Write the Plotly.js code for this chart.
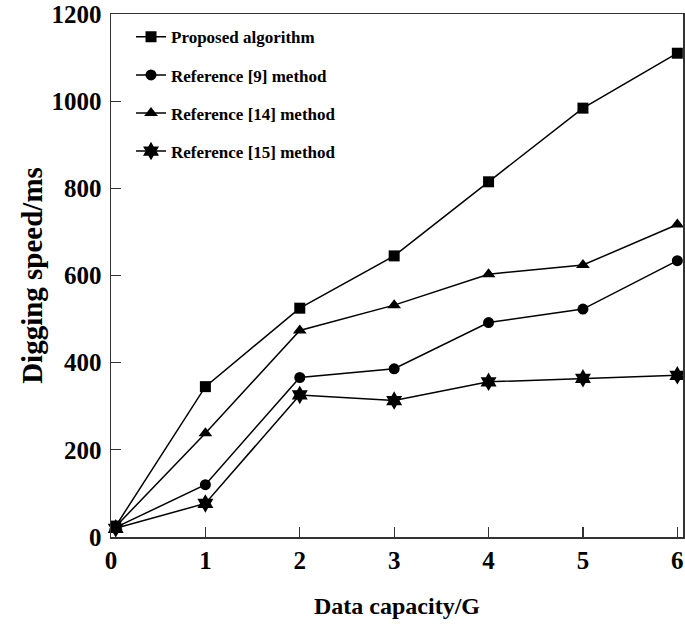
<!DOCTYPE html>
<html>
<head>
<meta charset="utf-8">
<script src="https://cdn.plot.ly/plotly-3.0.1.min.js"></script>
<style>html,body{margin:0;padding:0;background:#fff;}#chart{width:685px;height:624px;}</style>
</head>
<body>
<div id="chart"></div>
<script>
var xValues = [0.05, 1, 2, 3, 4, 5, 6];
var proposed = [25, 345, 525, 645, 815, 984, 1110];
var ref9 = [22, 120, 366, 386, 492, 523, 634];
var ref14 = [24, 238, 474, 532, 603, 624, 717];
var ref15 = [20, 77, 326, 313, 356, 364, 371];
var seriesNames = ["Proposed algorithm", "Reference [9] method", "Reference [14] method", "Reference [15] method"];
var xTicks = [0, 1, 2, 3, 4, 5, 6];
var yTicks = [0, 200, 400, 600, 800, 1000, 1200];

var FONT = "Liberation Serif, Times New Roman, serif";
var symbols = ["square", "circle", "triangle-up", "hexagram"];
var sizes = [11, 11, 12, 14];
var data = [proposed, ref9, ref14, ref15].map(function (ys, i) {
  return {
    x: xValues, y: ys, name: seriesNames[i], type: "scatter", mode: "lines+markers",
    legendgroup: "g" + i, cliponaxis: false,
    line: {color: "#000", width: 1.5},
    marker: {symbol: symbols[i], size: sizes[i], color: "#000"}
  };
});

var axisCommon = {
  showgrid: false, zeroline: false, showline: true, mirror: true,
  linecolor: "#333", linewidth: 1.5,
  ticks: "inside", ticklen: 10, tickwidth: 1.3, tickcolor: "#333",
  ticklabeloverflow: "allow",
  tickfont: {family: FONT, size: 25, color: "#000", weight: "bold"}
};

var layout = {
  width: 685, height: 624,
  margin: {l: 111, r: 2, t: 14, b: 87},
  paper_bgcolor: "#fff", plot_bgcolor: "#fff",
  showlegend: true,
  legend: {
    x: 0.035, y: 0.99, xanchor: "left", yanchor: "top",
    bgcolor: "rgba(0,0,0,0)", borderwidth: 0,
    tracegroupgap: 13,
    font: {family: FONT, size: 17, color: "#000", weight: "bold"}
  },
  xaxis: Object.assign({}, axisCommon, {
    range: [0, 6.06], tickvals: xTicks, ticktext: xTicks.map(String),
    title: {text: "Data capacity/G", standoff: 24, font: {family: FONT, size: 24, color: "#000", weight: "bold"}}
  }),
  yaxis: Object.assign({}, axisCommon, {
    range: [0, 1200], tickvals: yTicks, ticktext: yTicks.map(String),
    ticklabelstandoff: 3,
    title: {text: "Digging speed/ms", standoff: 0, font: {family: FONT, size: 29, color: "#000", weight: "bold"}}
  })
};

Plotly.newPlot("chart", data, layout, {staticPlot: true, displayModeBar: false});
</script>
</body>
</html>
